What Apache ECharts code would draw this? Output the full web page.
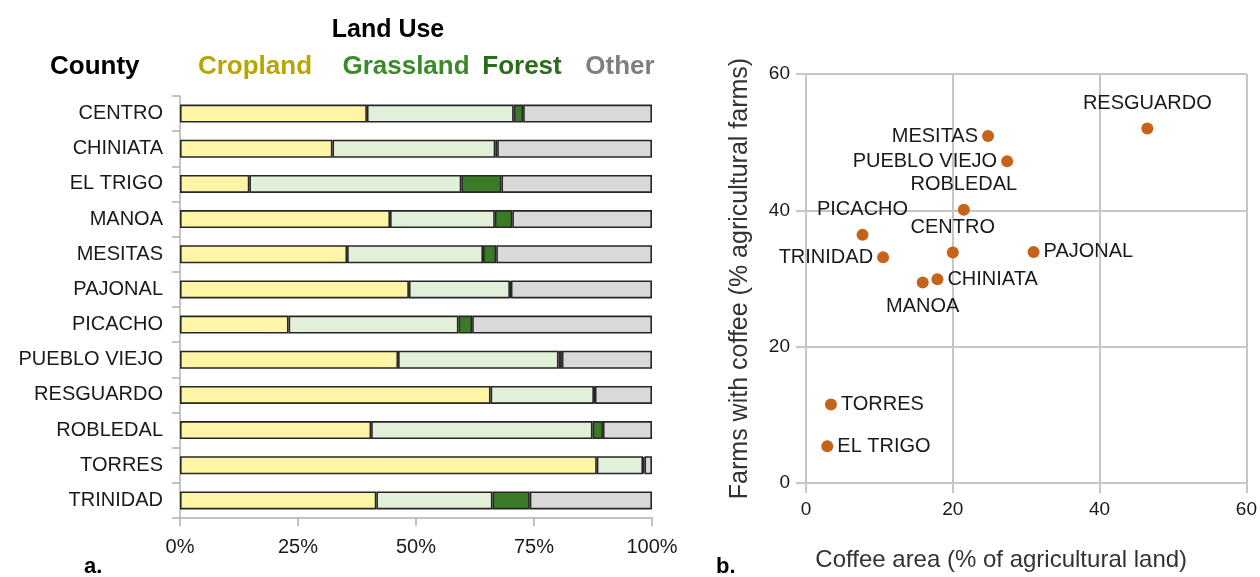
<!DOCTYPE html>
<html>
<head>
<meta charset="utf-8">
<script src="https://cdn.jsdelivr.net/npm/echarts@6/dist/echarts.min.js"></script>
<style>
  html, body { margin: 0; padding: 0; background: #ffffff; }
  #chart { width: 1260px; height: 577px; }
</style>
</head>
<body>
<div id="chart"></div>
<script>
// County land use shares (% of county area)
const counties  = ['CENTRO', 'CHINIATA', 'EL TRIGO', 'MANOA', 'MESITAS', 'PAJONAL', 'PICACHO', 'PUEBLO VIEJO', 'RESGUARDO', 'ROBLEDAL', 'TORRES', 'TRINIDAD'];
const cropland  = [39.6, 32.3, 14.7, 44.5, 35.4, 48.5, 23.0, 46.2, 65.8, 40.5, 88.3, 41.6];
const grassland = [31.1, 34.5, 44.9, 22.2, 28.8, 21.4, 36.0, 34.0, 21.9, 46.9,  9.8, 24.6];
const forest    = [ 2.0,  0.4,  8.5,  3.7,  2.8,  0.2,  2.9,  0.7,  0.2,  2.2,  0.3,  7.9];
const other     = [27.3, 32.8, 31.9, 29.6, 33.0, 29.9, 38.1, 19.1, 12.1, 10.4,  1.6, 25.9];

// Coffee: share of agricultural land and share of farms growing it
const coffeeArea  = [20.0, 17.9, 2.9, 15.9, 24.8, 31.0, 7.7, 27.4, 46.5, 21.5, 3.4, 10.5];
const coffeeFarms = [33.8, 29.9, 5.4, 29.4, 50.9, 33.9, 36.4, 47.2, 52.0, 40.1, 11.5, 33.1];

// Where each county name sits around its point
const labelSide = {
  'CENTRO': 'top', 'CHINIATA': 'right', 'EL TRIGO': 'right', 'MANOA': 'bottom',
  'MESITAS': 'left', 'PAJONAL': 'right', 'PICACHO': 'top', 'PUEBLO VIEJO': 'left',
  'RESGUARDO': 'top', 'ROBLEDAL': 'top', 'TORRES': 'right', 'TRINIDAD': 'left'
};

const FONT = "'Liberation Sans', Arial, sans-serif";
const INK = '#1a1a1a';
const GRID_GRAY = '#c6c6c6';

const landUse = [
  { name: 'Cropland',  values: cropland,  fill: '#fff5a6', text: '#b8a600' },
  { name: 'Grassland', values: grassland, fill: '#e2efd9', text: '#3a8a2a' },
  { name: 'Forest',    values: forest,    fill: '#3b7a27', text: '#2c6a1c' },
  { name: 'Other',     values: other,     fill: '#d9d9d9', text: '#7f7f7f' }
];

const barSeries = landUse.map(u => ({
  name: u.name,
  type: 'bar',
  stack: 'land',
  xAxisIndex: 0,
  yAxisIndex: 0,
  barWidth: 18,
  data: u.values,
  itemStyle: { color: u.fill, borderColor: '#262626', borderWidth: 1.6 },
  emphasis: { disabled: true }
}));

const scatterData = counties.map((c, i) => ({
  name: c,
  value: [coffeeArea[i], coffeeFarms[i]],
  label: { position: labelSide[c], distance: labelSide[c] === 'top' ? 9 : (labelSide[c] === 'bottom' ? 8 : 4) }
}));

const legendX = { 'Cropland': 255, 'Grassland': 406, 'Forest': 522, 'Other': 620 };

const headerTexts = [
  { type: 'text', x: 388, y: 30, style: { text: 'Land Use', font: "bold 25px " + FONT, fill: '#000', textAlign: 'center', textVerticalAlign: 'middle' } },
  { type: 'text', x: 50, y: 67, style: { text: 'County', font: "bold 26px " + FONT, fill: '#000', textAlign: 'left', textVerticalAlign: 'middle' } },
  ...landUse.map(u => ({
    type: 'text', x: legendX[u.name], y: 67,
    style: { text: u.name, font: "bold 26px " + FONT, fill: u.text, textAlign: 'center', textVerticalAlign: 'middle' }
  })),
  { type: 'text', x: 84, y: 567, style: { text: 'a.', font: "bold 22px " + FONT, fill: '#000', textAlign: 'left', textVerticalAlign: 'middle' } },
  { type: 'text', x: 716, y: 567, style: { text: 'b.', font: "bold 22px " + FONT, fill: '#000', textAlign: 'left', textVerticalAlign: 'middle' } }
];

const chart = echarts.init(document.getElementById('chart'), null, { renderer: 'canvas' });

chart.setOption({
  animation: false,
  backgroundColor: '#ffffff',
  textStyle: { fontFamily: FONT },
  graphic: headerTexts,
  grid: [
    { left: 180, right: 608, top: 96, bottom: 59, containLabel: false },
    { left: 806, right: 12, top: 74, bottom: 94, containLabel: false }
  ],
  xAxis: [
    {
      gridIndex: 0, type: 'value', min: 0, max: 100, interval: 25,
      axisLine: { show: true, lineStyle: { color: '#b0b0b0', width: 1.5 } },
      axisTick: { show: true, length: 8, lineStyle: { color: '#b0b0b0', width: 1.5 } },
      splitLine: { show: false },
      axisLabel: { formatter: '{value}%', color: INK, fontSize: 20, margin: 19, fontFamily: FONT }
    },
    {
      gridIndex: 1, type: 'value', min: 0, max: 60, interval: 20,
      name: 'Coffee area (% of agricultural land)', nameLocation: 'middle', nameGap: 65,
      nameTextStyle: { color: '#333', fontSize: 24, fontFamily: FONT, padding: [0, 50, 0, 0] },
      axisLine: { show: true, lineStyle: { color: GRID_GRAY, width: 2 } },
      axisTick: { show: true, length: 10, lineStyle: { color: GRID_GRAY, width: 2 } },
      splitLine: { show: true, lineStyle: { color: GRID_GRAY, width: 2 } },
      axisLabel: { color: INK, fontSize: 19, margin: 17, fontFamily: FONT }
    }
  ],
  yAxis: [
    {
      gridIndex: 0, type: 'category', data: counties, inverse: true,
      axisLine: { show: true, lineStyle: { color: '#b0b0b0', width: 1.5 } },
      axisTick: { show: true, length: 8, alignWithLabel: false, lineStyle: { color: '#b0b0b0', width: 1.5 } },
      splitLine: { show: false },
      axisLabel: { color: INK, fontSize: 20, margin: 17, fontFamily: FONT }
    },
    {
      gridIndex: 1, type: 'value', min: 0, max: 60, interval: 20,
      name: 'Farms with coffee (% agricultural farms)', nameLocation: 'middle', nameGap: 53,
      nameTextStyle: { color: '#333', fontSize: 25, fontFamily: FONT },
      axisLine: { show: true, lineStyle: { color: GRID_GRAY, width: 2 } },
      axisTick: { show: true, length: 10, lineStyle: { color: GRID_GRAY, width: 2 } },
      splitLine: { show: true, lineStyle: { color: GRID_GRAY, width: 2 } },
      axisLabel: { color: INK, fontSize: 19, margin: 16, fontFamily: FONT }
    }
  ],
  series: [
    ...barSeries,
    {
      name: 'Coffee',
      type: 'scatter',
      xAxisIndex: 1,
      yAxisIndex: 1,
      symbol: 'circle',
      symbolSize: 12,
      itemStyle: { color: '#c5631a', opacity: 1 },
      label: {
        show: true,
        formatter: p => p.name,
        color: INK,
        fontSize: 20,
        fontFamily: FONT,
        textBorderWidth: 0
      },
      emphasis: { disabled: true },
      data: scatterData
    }
  ]
});
</script>
</body>
</html>
